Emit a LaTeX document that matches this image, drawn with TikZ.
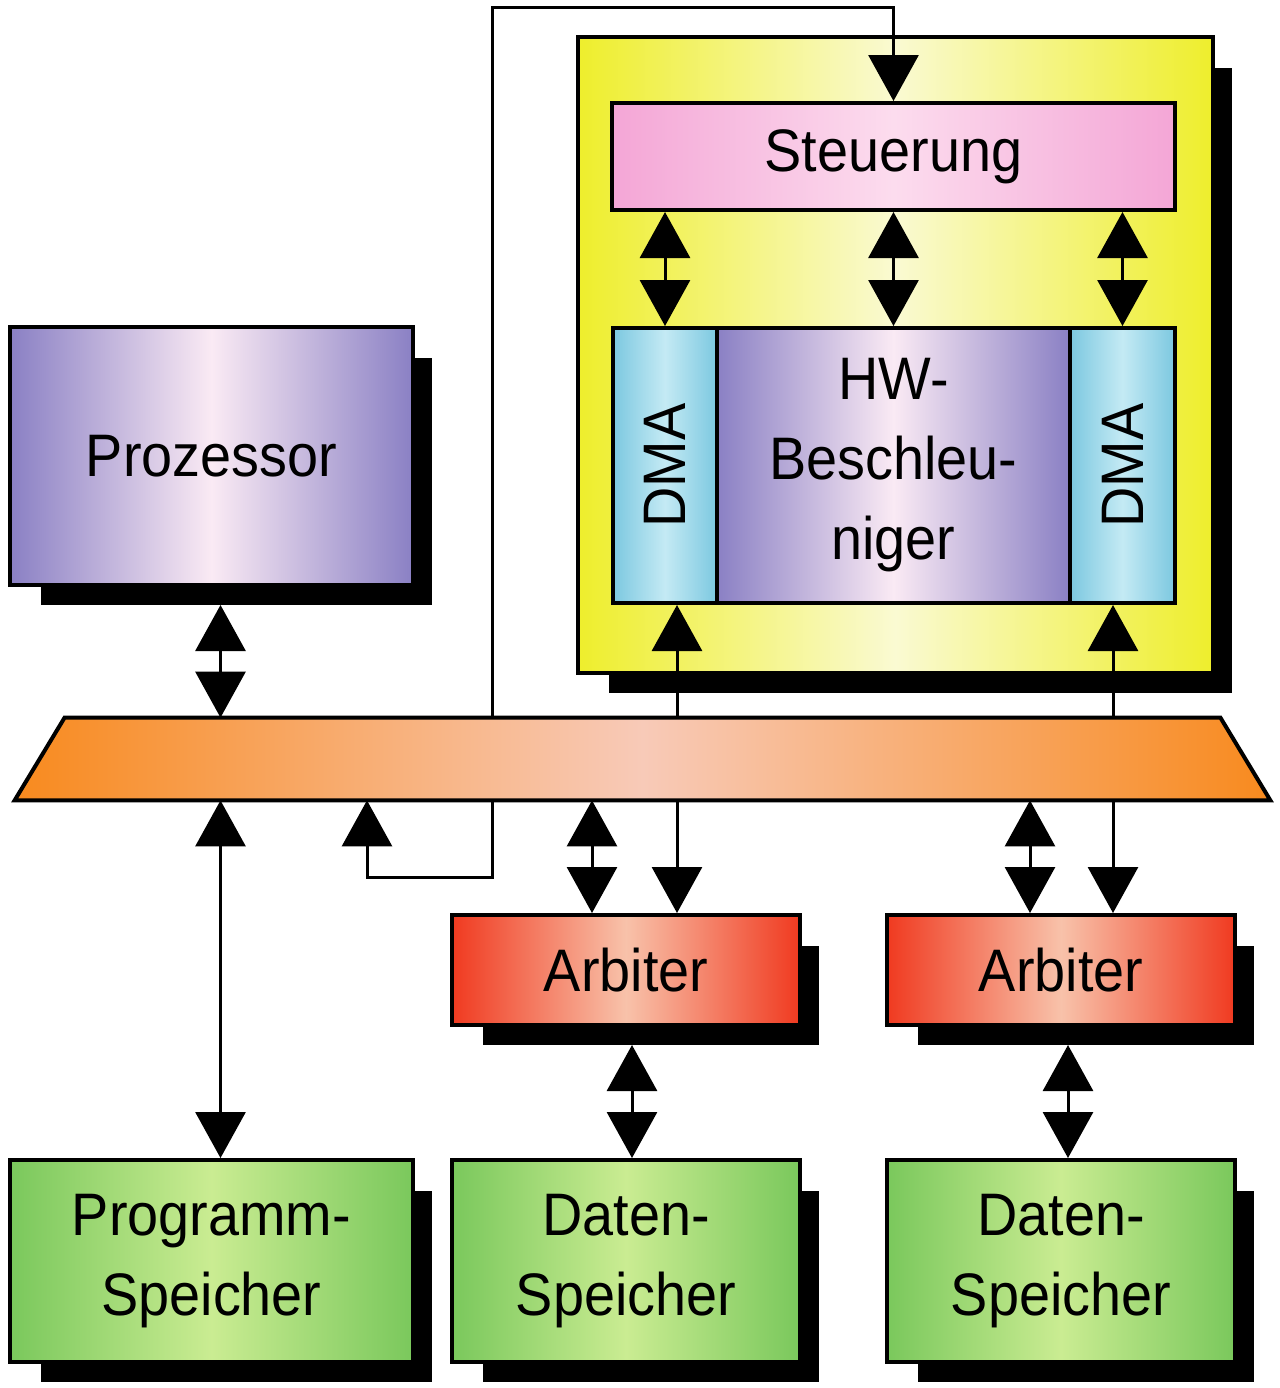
\documentclass[tikz,border=0pt]{standalone}
\usepackage{fontspec}
\setmainfont{Liberation Sans}[FakeStretch=0.93]
\usepackage{tikz}
\usetikzlibrary{arrows.meta,backgrounds}

\definecolor{lila}{HTML}{8A80C4}
\definecolor{lilalt}{HTML}{FAEAF4}
\definecolor{gelb}{HTML}{EEEE2C}
\definecolor{gelblt}{HTML}{FAFAD2}
\definecolor{rosa}{HTML}{F4A6D6}
\definecolor{rosalt}{HTML}{FCDCEE}
\definecolor{dmablau}{HTML}{7CC8E0}
\definecolor{dmalt}{HTML}{C4EAF4}
\definecolor{busor}{HTML}{F88A1E}
\definecolor{buslt}{HTML}{F8CAB8}
\definecolor{arbrot}{HTML}{F03A20}
\definecolor{arblt}{HTML}{F8C2AA}
\definecolor{memgr}{HTML}{7AC85C}
\definecolor{memlt}{HTML}{CAEC92}

\tikzset{
  block/.style={draw, line width=2pt, inner sep=0pt, align=center, font=\fontsize{30}{40}\selectfont},
  grad/.style 2 args={left color=#1, right color=#1, middle color=#2},
  arr/.style={line width=1.5pt, -{Triangle[length=23pt,width=25pt]}},
  biarr/.style={line width=1.5pt, {Triangle[length=23pt,width=25pt]}-{Triangle[length=23pt,width=25pt]}},
}

\begin{document}
\begin{tikzpicture}[x=0.5pt,y=-0.5pt]
    \useasboundingbox (0,0) rectangle (1280,1388);

    % prozessor
    \node[block, grad={lila}{lilalt}, minimum width=201.5pt, minimum height=129pt] (pro) at (211.5,456) {Prozessor};

    % beschleuniger
    \node[block, grad={gelb}{gelblt}, minimum width=317.5pt, minimum height=318pt] (acc) at (895.5,355) {};
    \node[block, grad={rosa}{rosalt}, minimum width=281.5pt, minimum height=53.5pt] (steu) at (893.5,156.5) {Steuerung};
    \node[block, grad={dmablau}{dmalt}, minimum width=52pt, minimum height=137.5pt] (dmaL) at (665,465.5) {\rotatebox{90}{DMA}};
    \node[block, grad={lila}{lilalt}, minimum width=176.5pt, minimum height=137.5pt] (hw) at (893.5,465.5) {HW-\\Beschleu-\\niger};
    \node[block, grad={dmablau}{dmalt}, minimum width=52.5pt, minimum height=137.5pt] (dmaR) at (1122.5,465.5) {\rotatebox{90}{DMA}};

    % arbiter
    \node[block, grad={arbrot}{arblt}, minimum width=174pt, minimum height=55pt] (arb1) at (626,970) {Arbiter};
    \node[block, grad={arbrot}{arblt}, minimum width=174pt, minimum height=55pt] (arb2) at (1061,970) {Arbiter};

    % speicher
    \node[block, grad={memgr}{memlt}, minimum width=201.5pt, minimum height=101pt] (prog) at (211.5,1261) {Programm-\\Speicher};
    \node[block, grad={memgr}{memlt}, minimum width=174pt, minimum height=101pt] (dat1) at (626,1261) {Daten-\\Speicher};
    \node[block, grad={memgr}{memlt}, minimum width=174pt, minimum height=101pt] (dat2) at (1061,1261) {Daten-\\Speicher};

    % shadows
    \begin{scope}[on background layer]
      \fill[white] (0,0) rectangle (1280,1388);
      \foreach \n in {pro,acc,arb1,arb2,prog,dat1,dat2}
        \fill ([shift={(16.5pt,-16.5pt)}]\n.north west) rectangle ([shift={(8.5pt,-9pt)}]\n.south east);
    \end{scope}

    % bus
    \node[inner sep=0pt, minimum width=627.5pt, minimum height=41pt] (bus) at (642.5,759) {};

    \coordinate (proS) at ([shift={(4.5pt,-9pt)}]pro.south);
    \coordinate (dmaLS) at ([xshift=6pt]dmaL.south);
    \coordinate (dmaRS) at ([xshift=-4.75pt]dmaR.south);
    \coordinate (arb1N) at ([xshift=-17pt]arb1.north);
    \coordinate (arb2N) at ([xshift=-15.5pt]arb2.north);
    \coordinate (arb1S) at ([shift={(3pt,-9pt)}]arb1.south);
    \coordinate (arb2S) at ([shift={(3.5pt,-9pt)}]arb2.south);
    \coordinate (fb1) at (367,877);
    \coordinate (fb2) at (492,7);

    % behind the bus
    \draw[biarr] (dmaLS) -- (dmaLS |- arb1.north);
    \draw[biarr] (dmaRS) -- (dmaRS |- arb2.north);
    \draw[biarr] (fb1 |- bus.south) -- (fb1) -| (fb2) -| (steu.north);

    \shadedraw[grad={busor}{buslt}, line width=2pt] (bus.south west) -- ([xshift=25pt]bus.north west)
      -- ([xshift=-25pt]bus.north east) -- (bus.south east) -- cycle;

    % connections
    \foreach \n in {dmaL,hw,dmaR}
      \draw[biarr] (steu.south -| \n.north) -- (\n.north);
    \draw[biarr] (proS) -- (proS |- bus.north);
    \draw[biarr] (bus.south -| proS) -- (prog.north -| proS);
    \draw[biarr] (bus.south -| arb1N) -- (arb1N);
    \draw[biarr] (bus.south -| arb2N) -- (arb2N);
    \draw[biarr] (arb1S) -- (arb1S |- dat1.north);
    \draw[biarr] (arb2S) -- (arb2S |- dat2.north);

\end{tikzpicture}
\end{document}
